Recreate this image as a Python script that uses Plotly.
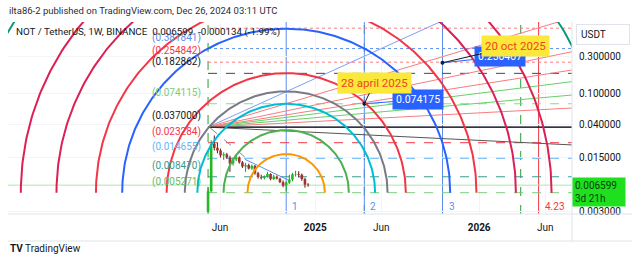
import numpy as np
import pandas as pd
import plotly.graph_objects as go

# ---------------- data ----------------
WEEKS = pd.date_range("2024-05-13", periods=33, freq="7D")
OPEN = [0.0030, 0.0055, 0.0225, 0.0200, 0.0185, 0.0160, 0.0165, 0.0150, 0.0125, 0.0142, 0.0150,
        0.0130, 0.0115, 0.0120, 0.0108, 0.0117, 0.0094, 0.0084, 0.0082, 0.0086, 0.0092, 0.0079,
        0.0085, 0.0080, 0.0072, 0.0065, 0.0071, 0.0078, 0.0091, 0.0092, 0.0090, 0.0079, 0.0067]
HIGH = [0.0062, 0.0250, 0.0289, 0.0235, 0.0195, 0.0175, 0.0172, 0.0158, 0.0150, 0.0160, 0.0155,
        0.0135, 0.0128, 0.0125, 0.0122, 0.0120, 0.0098, 0.0090, 0.0088, 0.0098, 0.0094, 0.0090,
        0.0088, 0.0082, 0.0076, 0.0074, 0.0090, 0.0095, 0.0101, 0.0100, 0.0093, 0.0082, 0.0070]
LOW = [0.0029, 0.0053, 0.0185, 0.0170, 0.0150, 0.0140, 0.0145, 0.0098, 0.0118, 0.0135, 0.0125,
       0.0110, 0.0098, 0.0105, 0.0104, 0.0090, 0.0080, 0.0078, 0.0078, 0.0083, 0.0076, 0.0077,
       0.0078, 0.0070, 0.0062, 0.0055, 0.0068, 0.0074, 0.0085, 0.0083, 0.0075, 0.0061, 0.0063]
CLOSE = [0.0055, 0.0225, 0.0200, 0.0185, 0.0160, 0.0165, 0.0150, 0.0125, 0.0142, 0.0150, 0.0130,
         0.0115, 0.0120, 0.0108, 0.0117, 0.0094, 0.0084, 0.0082, 0.0086, 0.0092, 0.0079, 0.0085,
         0.0080, 0.0072, 0.0065, 0.0071, 0.0078, 0.0091, 0.0092, 0.0090, 0.0079, 0.0067, 0.006599]
LAST_PRICE = 0.006599

# Fib retracement levels (anchored at listing week)
LEVEL_START = "2024-05-13"
LEVEL_PRICES = [0.70, 0.381841, 0.254842, 0.182862, 0.074115, 0.037000, 0.023284, 0.014655, 0.008470, 0.005271]
LEVEL_LABELS = ["", "(0.381841)", "(0.254842)", "(0.182862)", "(0.074115)", "(0.037000)",
                "(0.023284)", "(0.014655)", "(0.008470)", "(0.005271)"]
LEVEL_COLORS = ["#F77C80", "#5B8DEF", "#F77C80", "#434651", "#8BD98B", "#131722",
                "#F23645", "#64B5F6", "#3B9A8C", "#7CCB7C"]
LABEL_COLORS = ["#F23645", "#5B8DEF", "#F23645", "#131722", "#7CCB7C", "#131722",
                "#F23645", "#64B5F6", "#3B9A8C", "#66BB6A"]
LEVEL_DASH = ["dot", "dot", "dot", "dash", "dash", "solid", "dash", "dash", "dash", "dash"]

# Speed fan lines from one origin to the right edge
FAN_ORIGIN_DATE = "2024-05-13"
FAN_ORIGIN_PRICE = 0.037
FAN_END_DATE = "2026-08-06"
FAN_END_PRICES = [5.0, 0.953, 0.348, 0.202, 0.143, 0.096, 0.0653, 0.0218]
FAN_COLORS = ["#7E9FF2", "#F77C80", "#F77C80", "#F77C80", "#66D066", "#66D066", "#F77C80", "#555555"]

# Fib circles
ARC_CENTER_DATE = "2024-11-04"
ARC_CENTER_PRICE = 0.005271
ARC_BASE_DAYS = 227
ARC_LEVELS = [0.382, 0.618, 0.877, 1.0, 1.18, 1.618, 1.877, 2.266, 2.618, 3.17]
ARC_COLORS = ["#FF9800", "#4CAF50", "#00BCD4", "#787B86", "#F23645", "#2962FF",
              "#F23645", "#DC1F55", "#DC1F55", "#089981"]

# Fib time zones
TZ_START = "2024-05-13"
TZ_UNIT_DAYS = 175
TZ_LEVELS = [1, 2, 3, 4.23]
TZ_LABELS = ["1", "2", "3", "4.23"]
TZ_COLORS = ["#5B8DEF", "#5B8DEF", "#5B8DEF", "#F23645"]
TZ2_UNIT_DAYS = 350
TZ2_LEVELS = [0, 1, 2]

# Callouts
CALL_DATES = ["2025-04-28", "2025-10-20"]
CALL_PRICES = [0.074175, 0.250407]
CALL_TEXT = ["28 april 2025", "20 oct 2025"]
CALL_PRICE_TEXT = ["0.074175", "0.250407"]

# Trend lines along candles
TREND_GRAY = (["2024-05-18", "2024-08-06"], [0.036, 0.0148])
TREND_BLUE = (["2024-08-04", "2024-11-08"], [0.0142, 0.0077])

X_RANGE = ["2023-02-20", "2026-08-06"]
Y_RANGE = [0.0028, 0.841]
Y_TICKS = [0.3, 0.1, 0.04, 0.015, 0.003]
Y_TICK_TEXT = ["0.300000", "0.100000", "0.040000", "0.015000", "0.003000"]
X_TICKS = ["2024-06-09", "2025-01-08", "2025-06-05", "2026-01-10", "2026-06-07"]
X_TICK_TEXT = ["Jun", "<b>2025</b>", "Jun", "<b>2026</b>", "Jun"]

# ---------------- layout geometry ----------------
W, H = 640, 264
ML, MR, MT, MB = 8, 68, 22, 50
PW, PH = W - ML - MR, H - MT - MB


def pxx(xp):
    return (xp - ML) / PW


def pxy(yp):
    return (H - MB - yp) / PH


font = "Roboto, Arial, sans-serif"
fig = go.Figure()

x0, x1 = pd.Timestamp(X_RANGE[0]), pd.Timestamp(X_RANGE[1])
days_span = (x1 - x0).total_seconds() / 86400
px_per_day = PW / days_span
ly0, ly1 = np.log10(Y_RANGE[0]), np.log10(Y_RANGE[1])
px_per_dec = PH / (ly1 - ly0)

# current price line
fig.add_trace(go.Scatter(x=[x0, x1], y=[LAST_PRICE, LAST_PRICE], mode="lines",
                         line=dict(color="#A8E8A8", width=1), hoverinfo="skip"))

# horizontal levels
for p, c, d in zip(LEVEL_PRICES, LEVEL_COLORS, LEVEL_DASH):
    fig.add_trace(go.Scatter(x=[LEVEL_START, x1], y=[p, p], mode="lines",
                             line=dict(color=c, width=1, dash=d), hoverinfo="skip"))

# fan lines
for p, c in zip(FAN_END_PRICES, FAN_COLORS):
    fig.add_trace(go.Scatter(x=[FAN_ORIGIN_DATE, FAN_END_DATE], y=[FAN_ORIGIN_PRICE, p], mode="lines",
                             line=dict(color=c, width=1), hoverinfo="skip"))
fig.add_trace(go.Scatter(x=[FAN_ORIGIN_DATE, FAN_END_DATE], y=[FAN_ORIGIN_PRICE, FAN_ORIGIN_PRICE],
                         mode="lines", line=dict(color="#131722", width=1), hoverinfo="skip"))

# trend lines
fig.add_trace(go.Scatter(x=TREND_GRAY[0], y=TREND_GRAY[1], mode="lines",
                         line=dict(color="#888888", width=1, dash="dash"), hoverinfo="skip"))
fig.add_trace(go.Scatter(x=TREND_BLUE[0], y=TREND_BLUE[1], mode="lines",
                         line=dict(color="#5B8DEF", width=1), hoverinfo="skip"))

# candles: wicks and bodies drawn as vertical segments
for up, wick_c, body_c in [(True, "#179A17", "#22B922"), (False, "#5E1A1A", "#A33030")]:
    wx, wy, bx, by = [], [], [], []
    for d, o, h, l, c in zip(WEEKS, OPEN, HIGH, LOW, CLOSE):
        if (c >= o) == up:
            wx += [d, d, None]
            wy += [l, h, None]
            bx += [d, d, None]
            by += [o, c, None]
    fig.add_trace(go.Scatter(x=wx, y=wy, mode="lines", line=dict(color=wick_c, width=1), hoverinfo="skip"))
    fig.add_trace(go.Scatter(x=bx, y=by, mode="lines", line=dict(color=body_c, width=2.6), hoverinfo="skip"))

# arcs
theta = np.linspace(0, np.pi, 241)
cdate = pd.Timestamp(ARC_CENTER_DATE)
for lvl, c in zip(ARC_LEVELS, ARC_COLORS):
    r_days = lvl * ARC_BASE_DAYS
    r_px = r_days * px_per_day
    xs = cdate + pd.to_timedelta(r_days * np.cos(theta), unit="D")
    ys = 10 ** (np.log10(ARC_CENTER_PRICE) + r_px * np.sin(theta) / px_per_dec)
    fig.add_trace(go.Scatter(x=xs, y=ys, mode="lines", line=dict(color=c, width=2), hoverinfo="skip"))

# time zones
tz0 = pd.Timestamp(TZ_START)
shapes = []
annotations = []
for lvl in TZ2_LEVELS:
    d = tz0 + pd.Timedelta(days=lvl * TZ2_UNIT_DAYS)
    shapes.append(dict(type="line", xref="x", yref="paper", x0=d, x1=d, y0=0, y1=1, layer="below",
                       line=dict(color="#4CAF50", width=1.2, dash="dash")))
for lvl, lab, c in zip(TZ_LEVELS, TZ_LABELS, TZ_COLORS):
    d = tz0 + pd.Timedelta(days=lvl * TZ_UNIT_DAYS)
    shapes.append(dict(type="line", xref="x", yref="paper", x0=d, x1=d, y0=0, y1=1, layer="below",
                       line=dict(color=c, width=1)))
    annotations.append(dict(x=d, y=pxy(206), xref="x", yref="paper", text=lab, showarrow=False,
                            xanchor="left", yanchor="middle", xshift=4,
                            font=dict(family=font, size=10, color=c)))

# callout markers
fig.add_trace(go.Scatter(x=CALL_DATES, y=CALL_PRICES, mode="markers",
                         marker=dict(color="#131722", size=4), hoverinfo="skip"))

# level labels
for p, lab, c in zip(LEVEL_PRICES, LEVEL_LABELS, LABEL_COLORS):
    if lab:
        annotations.append(dict(x=LEVEL_START, y=np.log10(p), xref="x", yref="y", text=lab,
                                showarrow=False, xanchor="right", yanchor="middle",
                                xshift=-5, yshift=11, font=dict(family=font, size=10, color=c)))

# callouts (blue price boxes, then yellow date boxes)
blue_off = [(54, -4), (57, -6)]
yel_off = [(10, -21), (73, -17)]
for d, p, t, (ax, ay) in zip(CALL_DATES, CALL_PRICES, CALL_PRICE_TEXT, blue_off):
    annotations.append(dict(x=d, y=np.log10(p), xref="x", yref="y", text=t, showarrow=True,
                            arrowhead=0, arrowwidth=1, arrowcolor="#2962FF", ax=ax, ay=ay,
                            bgcolor="#2962FF", borderpad=3, font=dict(family=font, size=10.5, color="white")))
for d, p, t, (ax, ay) in zip(CALL_DATES, CALL_PRICES, CALL_TEXT, yel_off):
    annotations.append(dict(x=d, y=np.log10(p), xref="x", yref="y", text=t, showarrow=True,
                            arrowhead=0, arrowwidth=1, arrowcolor="#131722", ax=ax, ay=ay,
                            bgcolor="#FBE83A", borderpad=3, font=dict(family=font, size=11.5, color="#F0451E")))

# header / footer texts
annotations.append(dict(x=pxx(7), y=pxy(11), xref="paper", yref="paper", xanchor="left", yanchor="middle",
                        text="ilta86-2 published on TradingView.com, Dec 26, 2024 03:11 UTC", showarrow=False,
                        font=dict(family=font, size=9.5, color="#2A2E39")))
annotations.append(dict(x=pxx(14), y=pxy(32), xref="paper", yref="paper", xanchor="left", yanchor="middle",
                        text="NOT / TetherUS, 1W, BINANCE  0.006599  -0.000134 (-1.99%)", showarrow=False,
                        font=dict(family=font, size=9.8, color="#131722")))
annotations.append(dict(x=pxx(8), y=pxy(248), xref="paper", yref="paper", xanchor="left", yanchor="middle",
                        text="<b>TV</b> TradingView", showarrow=False,
                        font=dict(family=font, size=10, color="#131722")))
# USDT box
annotations.append(dict(x=pxx(576), y=pxy(34), xref="paper", yref="paper", xanchor="left", yanchor="middle",
                        text="USDT", showarrow=False, width=44, align="left", bordercolor="#E0E3EB",
                        borderpad=4, borderwidth=1, font=dict(family=font, size=10, color="#131722")))
# last price label
annotations.append(dict(x=pxx(572), y=np.log10(LAST_PRICE), xref="paper", yref="y", xanchor="left",
                        yanchor="top", yshift=8, text="0.006599<br>3d 21h", showarrow=False, width=48,
                        align="left", bgcolor="#1EE01E", borderpad=2,
                        font=dict(family=font, size=10, color="#0D3B0D")))

# frame lines
frame = "#E0E3EB"
shapes += [
    dict(type="line", xref="paper", yref="paper", x0=pxx(8), x1=pxx(632), y0=0, y1=0, line=dict(color=frame, width=1)),
    dict(type="line", xref="paper", yref="paper", x0=pxx(8), x1=pxx(632), y0=pxy(241), y1=pxy(241), line=dict(color=frame, width=1)),
    dict(type="line", xref="paper", yref="paper", x0=1, x1=1, y0=pxy(241), y1=1, line=dict(color=frame, width=1)),
]

fig.update_layout(
    width=W, height=H, margin=dict(l=ML, r=MR, t=MT, b=MB),
    paper_bgcolor="white", plot_bgcolor="white", showlegend=False,
    shapes=shapes, annotations=annotations,
    xaxis=dict(type="date", range=[x0, x1],
               tickvals=X_TICKS, ticktext=X_TICK_TEXT, ticks="", showgrid=True, gridcolor="#F2F4F8",
               zeroline=False, showline=False, ticklabelstandoff=6,
               tickfont=dict(family=font, size=10, color="#131722")),
    yaxis=dict(type="log", range=[ly0, ly1], side="right", tickvals=Y_TICKS, ticktext=Y_TICK_TEXT,
               ticks="", showgrid=True, gridcolor="#F2F4F8", zeroline=False, showline=False,
               ticklabelstandoff=6, tickfont=dict(family=font, size=10, color="#131722")),
)

fig.write_html("out.html")
